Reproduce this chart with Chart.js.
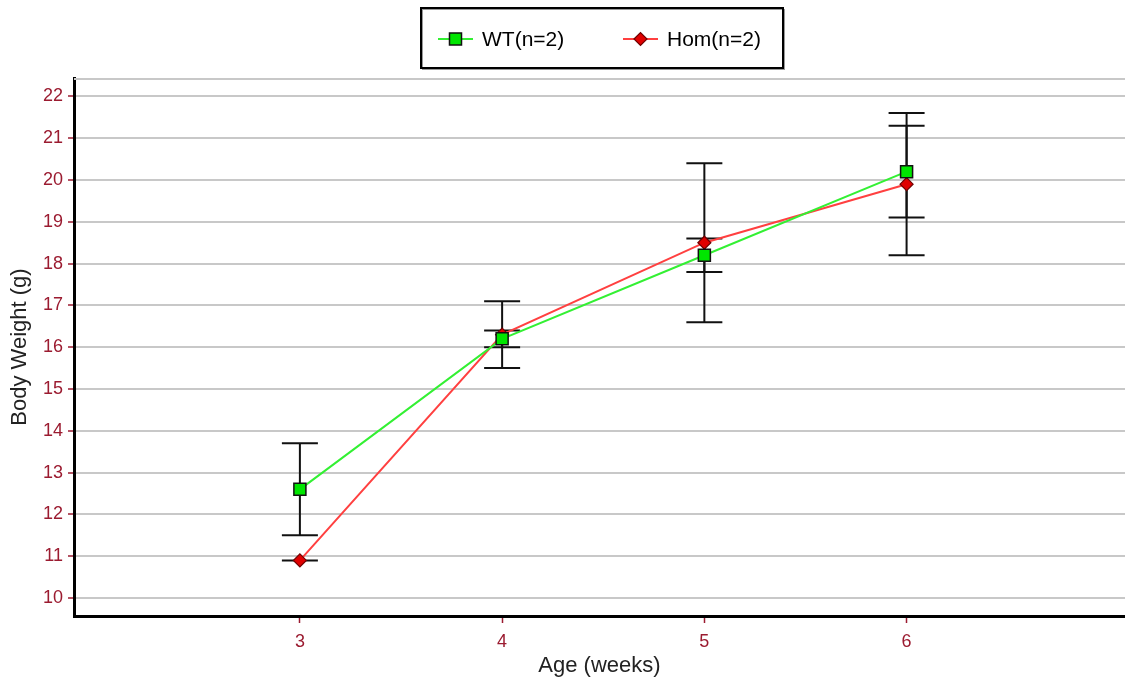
<!DOCTYPE html>
<html><head><meta charset="utf-8">
<script src="https://cdn.jsdelivr.net/npm/chart.js@4/dist/chart.umd.min.js"></script>
<style>html,body{margin:0;padding:0;background:#fff;overflow:hidden}#wrap{width:1125px;height:684px;position:relative}</style>
</head><body><div id="wrap"><canvas id="c" width="1125" height="684"></canvas></div>
<script>
// ---- data ----
const ages = [3, 4, 5, 6];
const xTicks = [3, 4, 5, 6];
const yTicks = [10, 11, 12, 13, 14, 15, 16, 17, 18, 19, 20, 21, 22];
const wtMean = [12.6, 16.2, 18.2, 20.2];
const wtErr = [1.1, 0.2, 0.4, 1.1];
const homMean = [10.9, 16.3, 18.5, 19.9];
const homErr = [0, 0.8, 1.9, 1.7];
const seriesNames = ['WT(n=2)', 'Hom(n=2)'];
const xTitle = 'Age (weeks)';
const yTitle = 'Body Weight (g)';

const FONT = 'Arial, "Liberation Sans", sans-serif';
const TICK_COLOR = '#9b1b30';

const errorSets = [wtErr, homErr];

const errorBars = {
  id: 'errorBars',
  beforeDatasetsDraw(chart) {
    const ctx = chart.ctx, xs = chart.scales.x, ys = chart.scales.y;
    ctx.save();
    ctx.strokeStyle = '#111';
    ctx.lineWidth = 2;
    chart.data.datasets.forEach((ds, di) => {
      const err = errorSets[di];
      ds.data.forEach((p, i) => {
        const x = xs.getPixelForValue(p.x);
        const yt = ys.getPixelForValue(p.y + err[i]);
        const yb = ys.getPixelForValue(p.y - err[i]);
        const hw = 18;
        ctx.beginPath();
        ctx.moveTo(x, yt); ctx.lineTo(x, yb);
        ctx.moveTo(x - hw, yt); ctx.lineTo(x + hw, yt);
        ctx.moveTo(x - hw, yb); ctx.lineTo(x + hw, yb);
        ctx.stroke();
      });
    });
    ctx.restore();
  }
};

const frame = {
  id: 'frame',
  beforeDatasetsDraw(chart) {
    const {ctx, chartArea} = chart;
    ctx.save();
    ctx.strokeStyle = '#c8c8c8';
    ctx.lineWidth = 2;
    ctx.beginPath();
    ctx.moveTo(chartArea.left, chartArea.top + 1);
    ctx.lineTo(chartArea.right, chartArea.top + 1);
    ctx.stroke();
    ctx.restore();
  }
};

const boxLegend = {
  id: 'boxLegend',
  afterDraw(chart) {
    const ctx = chart.ctx;
    const bx = 421, by = 8, bw = 362, bh = 60;
    ctx.save();
    ctx.fillStyle = '#fff';
    ctx.fillRect(bx, by, bw, bh);
    ctx.strokeStyle = '#999';
    ctx.lineWidth = 1;
    ctx.strokeRect(bx + 1.5, by + 1.5, bw, bh);
    ctx.strokeStyle = '#000';
    ctx.lineWidth = 2;
    ctx.strokeRect(bx, by, bw, bh);
    const items = [{x: 438}, {x: 623}];
    const cy = 39;
    chart.data.datasets.forEach((ds, i) => {
      const x0 = items[i].x;
      ctx.strokeStyle = ds.borderColor;
      ctx.lineWidth = 2;
      ctx.beginPath();
      ctx.moveTo(x0, cy); ctx.lineTo(x0 + 35, cy);
      ctx.stroke();
      ctx.fillStyle = ds.pointBackgroundColor;
      ctx.strokeStyle = ds.pointBorderColor;
      ctx.lineWidth = ds.pointBorderWidth;
      ctx.beginPath();
      if (ds.pointStyle === 'rect') {
        const s = Math.SQRT1_2 * ds.pointRadius;
        ctx.rect(x0 + 17.5 - s, cy - s, 2 * s, 2 * s);
      } else {
        const r = ds.pointRadius;
        ctx.moveTo(x0 + 17.5 - r, cy); ctx.lineTo(x0 + 17.5, cy - r);
        ctx.lineTo(x0 + 17.5 + r, cy); ctx.lineTo(x0 + 17.5, cy + r); ctx.closePath();
      }
      ctx.fill(); ctx.stroke();
      ctx.fillStyle = '#000';
      ctx.font = '21px ' + FONT;
      ctx.textBaseline = 'middle';
      ctx.textAlign = 'left';
      ctx.fillText(ds.label, x0 + 44, cy + 1);
    });
    ctx.restore();
  }
};

const toPts = arr => ages.map((a, i) => ({x: a, y: arr[i]}));

new Chart(document.getElementById('c'), {
  type: 'line',
  data: {
    datasets: [
      {
        label: seriesNames[0], data: toPts(wtMean),
        borderColor: '#33f033', borderWidth: 2,
        pointStyle: 'rect', pointRadius: 8.5, pointBackgroundColor: '#00e600',
        pointBorderColor: '#111', pointBorderWidth: 1.5, tension: 0
      },
      {
        label: seriesNames[1], data: toPts(homMean),
        borderColor: '#ff4040', borderWidth: 2,
        pointStyle: 'rectRot', pointRadius: 6.5, pointBackgroundColor: '#e00000',
        pointBorderColor: '#700000', pointBorderWidth: 1.2, tension: 0
      }
    ]
  },
  options: {
    responsive: false, animation: false, devicePixelRatio: 1,
    layout: {autoPadding: false, padding: {top: 78, right: 0, left: 0, bottom: 0}},
    plugins: {legend: {display: false}, tooltip: {enabled: false}},
    scales: {
      x: {
        type: 'linear', min: 1.883, max: 7.08,
        afterBuildTicks: s => { s.ticks = xTicks.map(v => ({value: v})); },
        afterFit: s => { s.height = 68; s.paddingLeft = 0; s.paddingRight = 0; },
        grid: {drawOnChartArea: false, tickColor: TICK_COLOR, tickLength: 7, tickWidth: 1.5},
        border: {color: '#000', width: 3},
        ticks: {color: TICK_COLOR, font: {family: FONT, size: 18}, padding: 8, callback: v => String(v)},
        title: {display: true, text: xTitle, color: '#222', font: {family: FONT, size: 22}, padding: {top: 0, bottom: 5}}
      },
      y: {
        type: 'linear', min: 9.57, max: 22.44,
        afterBuildTicks: s => { s.ticks = yTicks.map(v => ({value: v})); },
        afterFit: s => { s.width = 74; s.paddingTop = 0; s.paddingBottom = 0; },
        grid: {color: '#c8c8c8', lineWidth: 2, tickColor: TICK_COLOR, tickLength: 6, tickWidth: 1.5},
        border: {color: '#000', width: 3},
        ticks: {color: TICK_COLOR, font: {family: FONT, size: 18}, padding: 5, callback: v => String(v)},
        title: {display: true, text: yTitle, color: '#222', font: {family: FONT, size: 22}, padding: {top: 7, bottom: 0}}
      }
    }
  },
  plugins: [frame, errorBars, boxLegend]
});
</script>
</body></html>
